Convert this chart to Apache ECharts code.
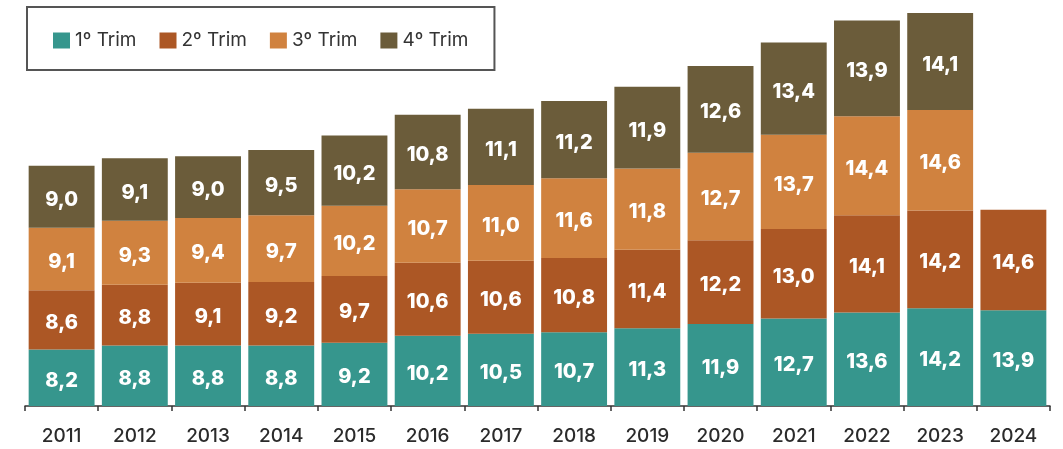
<!DOCTYPE html>
<html>
<head>
<meta charset="utf-8">
<script src="https://cdn.jsdelivr.net/npm/echarts@6/dist/echarts.min.js"></script>
<style>
  html, body { margin: 0; padding: 0; background: #ffffff; }
  #chart { width: 1063px; height: 449px; }
</style>
</head>
<body>
<div id="chart"></div>
<script>
// Quarterly values per year
const years = ['2011','2012','2013','2014','2015','2016','2017','2018','2019','2020','2021','2022','2023','2024'];
const trim1 = [8.2, 8.8, 8.8, 8.8, 9.2, 10.2, 10.5, 10.7, 11.3, 11.9, 12.7, 13.6, 14.2, 13.9];
const trim2 = [8.6, 8.8, 9.1, 9.2, 9.7, 10.6, 10.6, 10.8, 11.4, 12.2, 13.0, 14.1, 14.2, 14.6];
const trim3 = [9.1, 9.3, 9.4, 9.7, 10.2, 10.7, 11.0, 11.6, 11.8, 12.7, 13.7, 14.4, 14.6, null];
const trim4 = [9.0, 9.1, 9.0, 9.5, 10.2, 10.8, 11.1, 11.2, 11.9, 12.6, 13.4, 13.9, 14.1, null];
const seriesNames = ['1º Trim', '2º Trim', '3º Trim', '4º Trim'];
const colors = ['#36968d', '#ac5725', '#d0823f', '#6b5c3a'];

const FONT = 'Inter, "Noto Sans", sans-serif';

const chart = echarts.init(document.getElementById('chart'), null, { renderer: 'canvas' });

function makeSeries(name, data, color) {
  return {
    name: name,
    type: 'bar',
    stack: 'total',
    data: data,
    barCategoryGap: '10%',
    itemStyle: { color: color },
    label: {
      show: true,
      position: 'inside',
      offset: [0, 3],
      color: '#ffffff',
      fontFamily: FONT,
      fontSize: 20,
      fontWeight: 800,
      formatter: p => p.value == null ? '' : p.value.toFixed(1).replace('.', ',')
    },
    emphasis: { disabled: true }
  };
}

chart.setOption({
  animation: false,
  color: colors,
  legend: {
    left: 27,
    top: 7,
    padding: [24, 26, 20, 26],
    borderColor: '#555555',
    borderWidth: 2,
    itemWidth: 17,
    itemHeight: 16,
    itemGap: 23,
    icon: 'rect',
    textStyle: { fontFamily: FONT, fontSize: 19, color: '#333333' },
    data: seriesNames
  },
  grid: { left: 25, right: 13, top: 13, bottom: 43, containLabel: false },
  xAxis: {
    type: 'category',
    data: years,
    axisLine: { lineStyle: { color: '#333333', width: 1.5 } },
    axisTick: { show: true, length: 5, lineStyle: { color: '#333333', width: 1.5 } },
    axisLabel: { fontFamily: FONT, fontSize: 19, fontWeight: 500, color: '#2b2b2b', margin: 21 }
  },
  yAxis: {
    type: 'value',
    min: 0,
    max: 57.1,
    show: false,
    splitLine: { show: false }
  },
  series: [
    makeSeries(seriesNames[0], trim1, colors[0]),
    makeSeries(seriesNames[1], trim2, colors[1]),
    makeSeries(seriesNames[2], trim3, colors[2]),
    makeSeries(seriesNames[3], trim4, colors[3])
  ]
});
</script>
</body>
</html>
